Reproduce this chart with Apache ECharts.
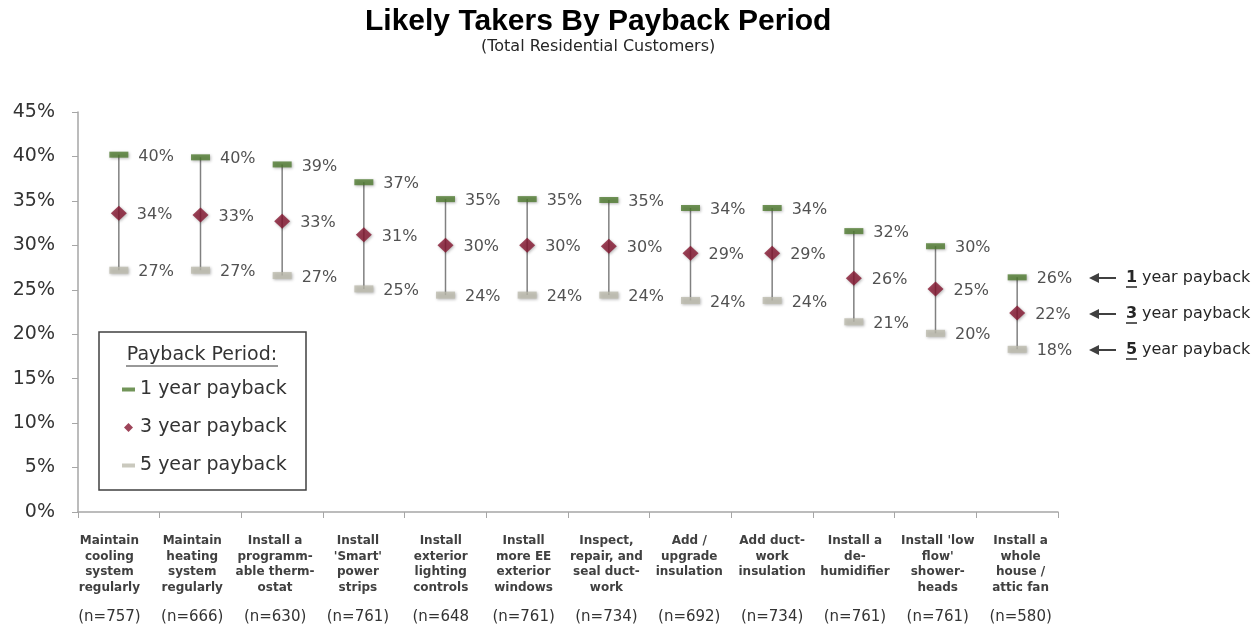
<!DOCTYPE html>
<html>
<head>
<meta charset="utf-8">
<script src="https://cdn.jsdelivr.net/npm/echarts@6/dist/echarts.min.js"></script>
<style>
html,body{margin:0;padding:0;background:#fff;}
#chart{width:1258px;height:627px;}
</style>
</head>
<body>
<div id="chart"></div>
<script>
const categories = [
  'Maintain\ncooling\nsystem\nregularly',
  'Maintain\nheating\nsystem\nregularly',
  'Install a\nprogramm-\nable therm-\nostat',
  "Install\n'Smart'\npower\nstrips",
  'Install\nexterior\nlighting\ncontrols',
  'Install\nmore EE\nexterior\nwindows',
  'Inspect,\nrepair, and\nseal duct-\nwork',
  'Add /\nupgrade\ninsulation',
  'Add duct-\nwork\ninsulation',
  'Install a\nde-\nhumidifier',
  "Install 'low\nflow'\nshower-\nheads",
  'Install a\nwhole\nhouse /\nattic fan'
];
const sampleLabels = ['(n=757)','(n=666)','(n=630)','(n=761)','(n=648','(n=761)','(n=734)','(n=692)','(n=734)','(n=761)','(n=761)','(n=580)'];
const seriesNames = ['1 year payback','3 year payback','5 year payback'];
const oneYear   = [40.2, 39.9, 39.1, 37.1, 35.2, 35.2, 35.1, 34.2, 34.2, 31.6, 29.9, 26.4];
const threeYear = [33.6, 33.4, 32.7, 31.2, 30.0, 30.0, 29.9, 29.1, 29.1, 26.3, 25.1, 22.4];
const fiveYear  = [27.2, 27.2, 26.6, 25.1, 24.4, 24.4, 24.4, 23.8, 23.8, 21.4, 20.1, 18.3];
const yTicks = {min: 0, max: 45, interval: 5};

const COL1 = '#4f7a30', COL3 = '#84152f', COL5 = '#bdbcae';
const TXT = '#333333';
const FONT = "'DejaVu Sans', sans-serif";

const chart = echarts.init(document.getElementById('chart'));

function pct(p){ return Math.round(p.value) + '%'; }
const labelBase = {
  show: true, position: 'right', formatter: pct,
  fontFamily: FONT, fontSize: 16, color: '#262626', offset: [0, 2]
};
const shadow = {shadowBlur: 3, shadowColor: 'rgba(0,0,0,0.35)', shadowOffsetX: 1, shadowOffsetY: 1};

const option = {
  animation: false,
  backgroundColor: '#fff',
  title: [
    {
      text: 'Likely Takers By Payback Period', left: 360, top: 2,
      textStyle: {fontFamily: "'Liberation Sans', sans-serif", fontWeight: 'bold', fontSize: 30, color: '#000'}
    },
    {
      text: '(Total Residential Customers)', left: 476, top: 34,
      textStyle: {fontFamily: FONT, fontWeight: 'normal', fontSize: 16, color: '#262626'}
    }
  ],
  grid: [
    {left: 78, right: 200, top: 112, bottom: 115, containLabel: false},
    {left: 68, right: 196, top: 112, bottom: 115, containLabel: false}
  ],
  legend: {
    orient: 'vertical', left: 117, top: 375, itemGap: 19,
    itemWidth: 13, itemHeight: 12, selectedMode: false,
    textStyle: {fontFamily: FONT, fontSize: 19, color: TXT},
    data: [
      {name: seriesNames[0], icon: 'path://M0,0M13,12M0,4H13V8H0Z'},
      {name: seriesNames[1], icon: 'path://M0,0M13,12M6.5,1.5L11,6L6.5,10.5L2,6Z'},
      {name: seriesNames[2], icon: 'path://M0,0M13,12M0,4H13V8H0Z'}
    ]
  },
  xAxis: [
    {
      type: 'category', data: categories, boundaryGap: true, gridIndex: 0,
      axisLine: {lineStyle: {color: '#a6a6a6', width: 1.5}},
      axisTick: {show: true, length: 6, lineStyle: {color: '#a6a6a6'}},
      axisLabel: {show: false}
    },
    {
      type: 'category', data: categories, boundaryGap: true, gridIndex: 1,
      axisLine: {show: false}, axisTick: {show: false},
      axisLabel: {
        interval: 0, margin: 21,
        formatter: function (val, idx) {
          const lines = val.split('\n');
          while (lines.length < 4) lines.push(' ');
          return lines.map(l => '{c|' + l + '}').join('\n') + '\n{n|' + sampleLabels[idx] + '}';
        },
        rich: {
          c: {fontFamily: FONT, fontWeight: 'bold', fontSize: 12, color: '#404040', lineHeight: 15.7, align: 'center'},
          n: {fontFamily: FONT, fontSize: 15, color: TXT, lineHeight: 29, verticalAlign: 'bottom', align: 'center'}
        }
      }
    }
  ],
  yAxis: [
    {
      type: 'value', min: yTicks.min, max: yTicks.max, interval: yTicks.interval, gridIndex: 0,
      axisLine: {show: true, lineStyle: {color: '#a6a6a6', width: 1.5}},
      axisTick: {show: true, length: 6, lineStyle: {color: '#a6a6a6'}},
      splitLine: {show: false},
      axisLabel: {formatter: '{value}%', fontFamily: FONT, fontSize: 19, color: TXT, margin: 23}
    },
    {
      type: 'value', min: yTicks.min, max: yTicks.max, gridIndex: 1, show: false
    }
  ],
  series: [
    {
      type: 'custom', name: 'range', z: 1, silent: true,
      data: categories.map((c, i) => [i, oneYear[i], fiveYear[i]]),
      encode: {x: 0, y: [1, 2]},
      renderItem: function (params, api) {
        const p1 = api.coord([api.value(0), api.value(1)]);
        const p2 = api.coord([api.value(0), api.value(2)]);
        return {type: 'line', shape: {x1: p1[0], y1: p1[1], x2: p2[0], y2: p2[1]},
                style: {stroke: '#808080', lineWidth: 1.5}};
      }
    },
    {
      type: 'scatter', name: seriesNames[0], data: oneYear, z: 3,
      symbol: 'rect', symbolSize: [19, 6],
      itemStyle: Object.assign({color: COL1}, shadow),
      label: Object.assign({distance: 10}, labelBase)
    },
    {
      type: 'scatter', name: seriesNames[1], data: threeYear, z: 3,
      symbol: 'diamond', symbolSize: [16, 15],
      itemStyle: Object.assign({color: COL3}, shadow),
      label: Object.assign({distance: 10}, labelBase)
    },
    {
      type: 'scatter', name: seriesNames[2], data: fiveYear, z: 3,
      symbol: 'rect', symbolSize: [19, 7],
      itemStyle: Object.assign({color: COL5}, shadow),
      label: Object.assign({distance: 10}, labelBase)
    }
  ]
};
chart.setOption(option);

// Legend frame, title and right-hand annotations
const last = categories.length - 1;
const lastVals = [oneYear[last], threeYear[last], fiveYear[last]];
const digits = ['1', '3', '5'];
const graphics = [
  {type: 'rect', shape: {x: 99, y: 332, width: 207, height: 158},
   style: {fill: 'none', stroke: '#404040', lineWidth: 1.5}, z: 10},
  {type: 'text', x: 202, y: 355, style: {text: 'Payback Period:', font: '19px ' + FONT, fill: TXT, textAlign: 'center', textVerticalAlign: 'middle'}, z: 10},
  {type: 'line', shape: {x1: 126, y1: 366, x2: 278, y2: 366}, style: {stroke: TXT, lineWidth: 1}, z: 10}
];
lastVals.forEach((v, k) => {
  const p = chart.convertToPixel({seriesIndex: k + 1}, [last, v]);
  const y = Math.round(p[1]) + 1;
  const ax = 1089;
  graphics.push({type: 'line', shape: {x1: ax + 6, y1: y, x2: ax + 27, y2: y}, style: {stroke: '#404040', lineWidth: 2}, z: 10});
  graphics.push({type: 'polygon', shape: {points: [[ax, y], [ax + 10, y - 5], [ax + 10, y + 5]]}, style: {fill: '#404040'}, z: 10});
  graphics.push({type: 'text', x: 1126, y: y, style: {text: digits[k], font: 'bold 16px ' + FONT, fill: '#262626', textVerticalAlign: 'middle'}, z: 10});
  graphics.push({type: 'line', shape: {x1: 1126, y1: y + 9, x2: 1137, y2: y + 9}, style: {stroke: '#262626', lineWidth: 1.5}, z: 10});
  graphics.push({type: 'text', x: 1142, y: y, style: {text: 'year payback', font: '16px ' + FONT, fill: '#262626', textVerticalAlign: 'middle'}, z: 10});
});
chart.setOption({graphic: graphics});
</script>
</body>
</html>
